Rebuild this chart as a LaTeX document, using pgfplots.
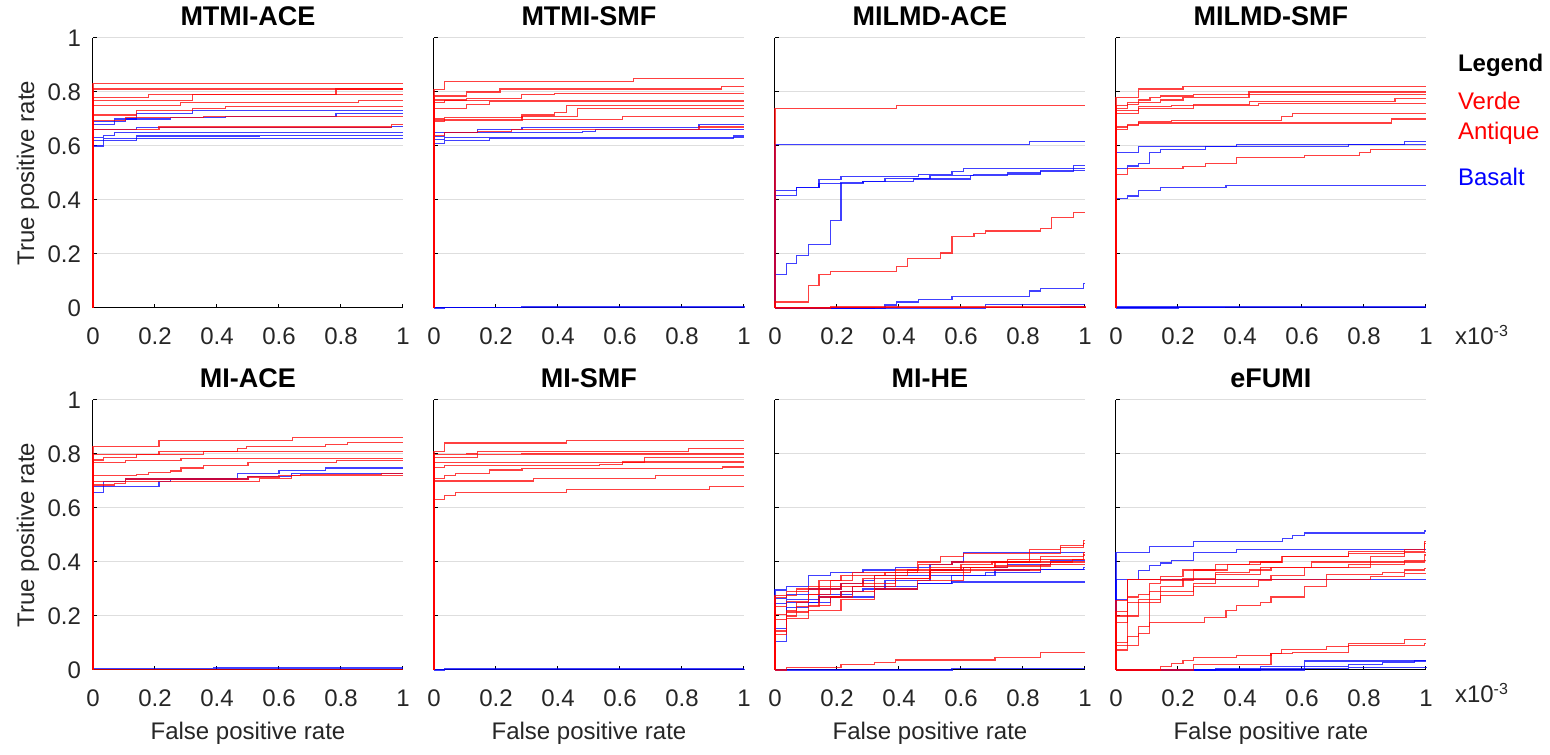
\documentclass[border=0pt]{standalone}
\usepackage{fontspec}
\setmainfont{Liberation Sans}
\usepackage{pgfplots}
\pgfplotsset{compat=1.18}

\definecolor{tick}{RGB}{38,38,38}
\definecolor{gridc}{RGB}{222,222,222}

\pgfplotsset{
  roc/.style={
    set layers, clip=false,
    scale only axis, width=155pt, height=135pt,
    xmin=0, xmax=1, ymin=0, ymax=1,
    axis x line*=bottom, axis y line*=left,
    axis line style={-, black, line width=0.5pt},
    xtick={0,0.2,0.4,0.6,0.8,1}, ytick={0,0.2,0.4,0.6,0.8,1},
    xticklabels={0,0.2,0.4,0.6,0.8,1},
    yticklabels={},
    tick align=inside, major tick length=2pt,
    tick style={black, line width=0.5pt},
    ymajorgrids, major grid style={gridc, line width=0.5pt},
    ticklabel style={font=\fontsize{12}{14}\selectfont, text=tick},
    xticklabel style={yshift=-6.5pt},
    yticklabel style={xshift=-2.5pt},
    title style={at={(axis description cs:0.5,1.035)}, anchor=center,
                 font=\bfseries\fontsize{13.5}{15}\selectfont},
    label style={font=\fontsize{12}{14}\selectfont, text=tick},
    xlabel style={at={(axis description cs:0.5,-0.236)}, anchor=center},
    ylabel style={at={(axis description cs:-0.21,0.5)}, anchor=center},
    anchor=south west,
  },
  ylab/.style={yticklabels={0,0.2,0.4,0.6,0.8,1}, ylabel={True positive rate}},
  rd/.style={draw=red, const plot, no markers, line width=0.6pt, opacity=0.75},
  bl/.style={draw=blue, const plot, no markers, line width=0.6pt, opacity=0.75},
}

\begin{document}
\begin{tikzpicture}
\path (0,0) (775pt,377.5pt);

% ---------- MTMI-ACE ----------
\begin{axis}[roc, ylab, at={(46.5pt,223.5pt)}, title={MTMI-ACE}]
\addplot[bl] coordinates {(0,0)(0,0.68)(0.07,0.70)(0.141,0.72)(0.32,0.73)(1,0.73)};
\addplot[bl] coordinates {(0,0)(0,0.69)(0.106,0.70)(0.249,0.705)(0.428,0.71)(0.784,0.72)(1,0.72)};
\addplot[bl] coordinates {(0,0)(0,0.66)(0.141,0.668)(0.964,0.672)(1,0.672)};
\addplot[bl] coordinates {(0,0)(0,0.63)(0.034,0.64)(0.07,0.651)(1,0.651)};
\addplot[bl] coordinates {(0,0)(0,0.60)(0.034,0.619)(0.141,0.629)(1,0.629)};
\addplot[bl] coordinates {(0,0)(0,0.62)(0.034,0.629)(0.141,0.637)(0.536,0.64)(1,0.64)};
\addplot[rd] coordinates {(0,0)(0,0.83)(1,0.83)};
\addplot[rd] coordinates {(0,0)(0,0.811)(1,0.811)};
\addplot[rd] coordinates {(0,0)(0,0.78)(0.178,0.79)(0.784,0.811)(1,0.811)};
\addplot[rd] coordinates {(0,0)(0,0.769)(0.32,0.79)(1,0.79)};
\addplot[rd] coordinates {(0,0)(0,0.749)(0.282,0.761)(0.857,0.769)(1,0.769)};
\addplot[rd] coordinates {(0,0)(0,0.715)(0.141,0.73)(0.32,0.74)(0.428,0.745)(1,0.745)};
\addplot[rd] coordinates {(0,0)(0,0.695)(0.106,0.705)(0.356,0.71)(1,0.71)};
\addplot[rd] coordinates {(0,0)(0,0.66)(0.213,0.67)(0.964,0.68)(1,0.68)};
\end{axis}

% ---------- MTMI-SMF ----------
\begin{axis}[roc, at={(217pt,223.5pt)}, title={MTMI-SMF}]
\addplot[bl] coordinates {(0,0)(0,0.65)(0.141,0.66)(0.284,0.668)(0.855,0.68)(1,0.68)};
\addplot[bl] coordinates {(0,0)(0,0.635)(0.034,0.649)(0.48,0.655)(0.52,0.662)(1,0.662)};
\addplot[bl] coordinates {(0,0)(0,0.61)(0.034,0.62)(0.178,0.629)(0.965,0.637)(1,0.637)};
\addplot[bl] coordinates {(0,0)(0,0.625)(0.034,0.63)(1,0.63)};
\addplot[bl] coordinates {(0,0)(0,0.003)(0.284,0.005)(0.607,0.006)(1,0.007)};
\addplot[bl] coordinates {(0,0)(0.034,0.002)(1,0.004)};
\addplot[rd] coordinates {(0,0)(0,0.81)(0.034,0.84)(0.643,0.85)(1,0.85)};
\addplot[rd] coordinates {(0,0)(0,0.785)(0.104,0.80)(0.213,0.811)(0.928,0.82)(1,0.82)};
\addplot[rd] coordinates {(0,0)(0,0.77)(0.104,0.775)(0.282,0.79)(0.39,0.795)(1,0.795)};
\addplot[rd] coordinates {(0,0)(0,0.76)(0.034,0.769)(1,0.769)};
\addplot[rd] coordinates {(0,0)(0,0.74)(0.104,0.755)(0.178,0.765)(1,0.765)};
\addplot[rd] coordinates {(0,0)(0,0.70)(0.034,0.705)(0.284,0.715)(0.39,0.725)(0.427,0.749)(1,0.749)};
\addplot[rd] coordinates {(0,0)(0,0.695)(0.284,0.71)(0.463,0.74)(1,0.74)};
\addplot[rd] coordinates {(0,0)(0,0.69)(0.034,0.699)(0.608,0.71)(1,0.71)};
\addplot[rd] coordinates {(0,0)(0,0.64)(0.034,0.65)(0.141,0.655)(0.25,0.66)(0.855,0.67)(1,0.67)};
\end{axis}

% ---------- MILMD-ACE ----------
\begin{axis}[roc, at={(387.5pt,223.5pt)}, title={MILMD-ACE}]
\addplot[bl] coordinates {(0,0)(0,0.606)(0.82,0.618)(1,0.618)};
\addplot[bl] coordinates {(0,0)(0,0.436)(0.07,0.446)(0.142,0.475)(0.213,0.486)(0.463,0.495)(0.571,0.505)(0.607,0.516)(1,0.516)};
\addplot[bl] coordinates {(0,0)(0,0.416)(0.07,0.446)(0.142,0.46)(0.284,0.468)(0.446,0.478)(0.63,0.49)(0.75,0.50)(0.857,0.505)(0.964,0.527)(1,0.527)};
\addplot[bl] coordinates {(0,0)(0,0.124)(0.036,0.165)(0.07,0.194)(0.107,0.235)(0.178,0.325)(0.213,0.465)(0.284,0.468)(0.355,0.48)(0.5,0.49)(0.64,0.495)(0.857,0.51)(1,0.51)};
\addplot[bl] coordinates {(0,0)(0.355,0.011)(0.392,0.022)(0.463,0.032)(0.571,0.042)(0.82,0.063)(0.857,0.073)(0.995,0.09)(1,0.09)};
\addplot[bl] coordinates {(0,0)(0.678,0.013)(1,0.013)};
\addplot[bl] coordinates {(0,0)(0.32,0.003)(0.92,0.006)(1,0.006)};
\addplot[rd] coordinates {(0,0)(0,0.739)(0.392,0.749)(1,0.749)};
\addplot[rd] coordinates {(0,0)(0,0.022)(0.107,0.082)(0.142,0.124)(0.178,0.134)(0.392,0.153)(0.427,0.183)(0.535,0.204)(0.571,0.264)(0.642,0.275)(0.678,0.285)(0.857,0.295)(0.892,0.335)(0.964,0.355)(1,0.355)};
\addplot[rd] coordinates {(0,0)(0,0.003)(1,0.004)};
\addplot[rd] coordinates {(0,0)(0.18,0.004)(1,0.006)};
\end{axis}

% ---------- MILMD-SMF ----------
\begin{axis}[roc, at={(558pt,223.5pt)}, title={MILMD-SMF}]
\addplot[bl] coordinates {(0,0)(0,0.577)(0.072,0.598)(0.39,0.605)(0.93,0.618)(1,0.618)};
\addplot[bl] coordinates {(0,0)(0,0.516)(0.036,0.526)(0.072,0.536)(0.107,0.577)(0.144,0.588)(0.288,0.598)(0.75,0.606)(1,0.606)};
\addplot[bl] coordinates {(0,0)(0,0.405)(0.036,0.415)(0.072,0.434)(0.144,0.446)(0.355,0.455)(1,0.455)};
\addplot[bl] coordinates {(0,0)(0,0.004)(0.35,0.006)(1,0.006)};
\addplot[bl] coordinates {(0,0)(0.2,0.003)(1,0.003)};
\addplot[rd] coordinates {(0,0)(0,0.78)(0.072,0.811)(0.216,0.82)(1,0.82)};
\addplot[rd] coordinates {(0,0)(0,0.749)(0.037,0.761)(0.144,0.77)(0.216,0.78)(0.429,0.80)(1,0.80)};
\addplot[rd] coordinates {(0,0)(0,0.74)(0.036,0.755)(0.072,0.77)(0.11,0.78)(0.144,0.785)(0.25,0.79)(1,0.79)};
\addplot[rd] coordinates {(0,0)(0,0.73)(0.072,0.745)(0.18,0.75)(0.25,0.755)(0.43,0.765)(0.9,0.775)(1,0.775)};
\addplot[rd] coordinates {(0,0)(0,0.72)(0.072,0.74)(0.25,0.75)(0.46,0.757)(1,0.757)};
\addplot[rd] coordinates {(0,0)(0,0.67)(0.036,0.68)(0.072,0.69)(0.18,0.695)(0.535,0.71)(0.57,0.72)(1,0.72)};
\addplot[rd] coordinates {(0,0)(0,0.66)(0.036,0.675)(0.072,0.685)(0.89,0.70)(1,0.70)};
\addplot[rd] coordinates {(0,0)(0,0.495)(0.036,0.516)(0.216,0.525)(0.288,0.536)(0.39,0.557)(0.607,0.565)(0.785,0.575)(0.82,0.588)(1,0.588)};
\end{axis}

% ---------- MI-ACE ----------
\begin{axis}[roc, ylab, at={(46.5pt,42.5pt)}, title={MI-ACE}, xlabel={False positive rate}]
\addplot[bl] coordinates {(0,0)(0,0.658)(0.034,0.699)(0.106,0.707)(0.465,0.727)(0.6,0.738)(0.75,0.748)(1,0.748)};
\addplot[bl] coordinates {(0,0)(0,0.679)(0.213,0.699)(0.249,0.707)(0.5,0.717)(0.64,0.727)(1,0.727)};
\addplot[bl] coordinates {(0,0)(0,0.006)(0.39,0.007)(1,0.007)};
\addplot[rd] coordinates {(0,0)(0,0.828)(0.213,0.851)(0.644,0.86)(1,0.86)};
\addplot[rd] coordinates {(0,0)(0,0.798)(0.213,0.81)(0.465,0.82)(0.496,0.828)(0.75,0.835)(0.82,0.842)(1,0.842)};
\addplot[rd] coordinates {(0,0)(0,0.778)(0.034,0.788)(0.141,0.798)(0.356,0.81)(1,0.81)};
\addplot[rd] coordinates {(0,0)(0,0.769)(0.106,0.775)(0.284,0.782)(1,0.782)};
\addplot[rd] coordinates {(0,0)(0,0.72)(0.141,0.725)(0.178,0.73)(0.249,0.737)(0.284,0.748)(0.356,0.757)(0.5,0.769)(0.785,0.775)(1,0.775)};
\addplot[rd] coordinates {(0,0)(0,0.685)(0.07,0.69)(0.106,0.707)(0.5,0.715)(0.6,0.72)(0.67,0.725)(0.93,0.728)(1,0.728)};
\addplot[rd] coordinates {(0,0)(0,0.699)(0.536,0.709)(0.64,0.72)(1,0.72)};
\addplot[rd] coordinates {(0,0)(0,0.002)(1,0.002)};
\end{axis}

% ---------- MI-SMF ----------
\begin{axis}[roc, at={(217pt,42.5pt)}, title={MI-SMF}, xlabel={False positive rate}]
\addplot[bl] coordinates {(0,0)(0.034,0.004)(0.57,0.006)(1,0.006)};
\addplot[bl] coordinates {(0,0)(0,0.002)(1,0.003)};
\addplot[rd] coordinates {(0,0)(0,0.81)(0.034,0.841)(0.427,0.851)(1,0.851)};
\addplot[rd] coordinates {(0,0)(0,0.798)(0.104,0.80)(0.141,0.81)(0.82,0.82)(1,0.82)};
\addplot[rd] coordinates {(0,0)(0,0.788)(0.141,0.798)(0.284,0.80)(1,0.80)};
\addplot[rd] coordinates {(0,0)(0,0.768)(0.678,0.788)(1,0.788)};
\addplot[rd] coordinates {(0,0)(0,0.749)(0.034,0.757)(0.535,0.762)(0.607,0.77)(1,0.77)};
\addplot[rd] coordinates {(0,0)(0,0.71)(0.034,0.719)(0.07,0.727)(0.178,0.741)(0.284,0.745)(0.93,0.752)(1,0.752)};
\addplot[rd] coordinates {(0,0)(0,0.70)(0.32,0.71)(0.715,0.719)(1,0.719)};
\addplot[rd] coordinates {(0,0)(0,0.63)(0.034,0.646)(0.07,0.658)(0.427,0.668)(0.89,0.679)(1,0.679)};
\end{axis}

% ---------- MI-HE ----------
\begin{axis}[roc, at={(387.5pt,42.5pt)}, title={MI-HE}, xlabel={False positive rate}]
\addplot[bl] coordinates {(0,0)(0,0.296)(0.036,0.31)(0.107,0.35)(0.178,0.36)(0.284,0.37)(0.39,0.38)(0.5,0.39)(0.571,0.40)(0.607,0.436)(1,0.436)};
\addplot[bl] coordinates {(0,0)(0,0.264)(0.036,0.28)(0.107,0.30)(0.213,0.32)(0.284,0.33)(0.32,0.35)(0.5,0.37)(0.607,0.38)(0.75,0.39)(0.89,0.406)(1,0.406)};
\addplot[bl] coordinates {(0,0)(0,0.247)(0.036,0.26)(0.142,0.27)(0.213,0.29)(0.284,0.30)(0.355,0.31)(0.46,0.32)(0.571,0.326)(1,0.326)};
\addplot[bl] coordinates {(0,0)(0,0.154)(0.036,0.23)(0.107,0.25)(0.178,0.27)(0.32,0.30)(0.46,0.32)(0.57,0.35)(0.678,0.36)(0.857,0.373)(0.994,0.38)(1,0.38)};
\addplot[bl] coordinates {(0,0)(0,0.104)(0.036,0.25)(0.142,0.28)(0.249,0.31)(0.355,0.33)(0.5,0.35)(0.71,0.37)(0.82,0.373)(1,0.373)};
\addplot[bl] coordinates {(0,0)(0.571,0.005)(1,0.005)};
\addplot[rd] coordinates {(0,0)(0,0.277)(0.036,0.29)(0.107,0.31)(0.178,0.33)(0.249,0.36)(0.5,0.37)(0.6,0.39)(0.7,0.40)(0.82,0.43)(0.92,0.46)(0.994,0.48)(1,0.48)};
\addplot[rd] coordinates {(0,0)(0,0.267)(0.036,0.275)(0.07,0.30)(0.142,0.33)(0.213,0.35)(0.355,0.36)(0.46,0.40)(0.535,0.42)(0.607,0.43)(0.82,0.445)(0.92,0.455)(0.994,0.467)(1,0.467)};
\addplot[rd] coordinates {(0,0)(0,0.235)(0.036,0.255)(0.107,0.28)(0.178,0.31)(0.284,0.34)(0.39,0.37)(0.463,0.39)(0.571,0.40)(0.75,0.41)(0.857,0.42)(0.994,0.436)(1,0.436)};
\addplot[rd] coordinates {(0,0)(0,0.204)(0.036,0.22)(0.07,0.25)(0.107,0.28)(0.142,0.30)(0.213,0.32)(0.32,0.35)(0.427,0.37)(0.5,0.38)(0.71,0.40)(0.857,0.41)(0.994,0.426)(1,0.426)};
\addplot[rd] coordinates {(0,0)(0,0.188)(0.036,0.215)(0.107,0.24)(0.178,0.27)(0.213,0.29)(0.32,0.32)(0.39,0.34)(0.5,0.36)(0.63,0.38)(0.71,0.385)(0.89,0.40)(1,0.40)};
\addplot[rd] coordinates {(0,0)(0,0.144)(0.036,0.20)(0.07,0.235)(0.142,0.27)(0.249,0.31)(0.39,0.34)(0.5,0.37)(0.607,0.38)(0.75,0.40)(0.96,0.41)(1,0.41)};
\addplot[rd] coordinates {(0,0)(0,0.132)(0.036,0.19)(0.107,0.22)(0.213,0.26)(0.32,0.30)(0.46,0.33)(0.607,0.37)(0.857,0.39)(1,0.39)};
\addplot[rd] coordinates {(0,0)(0.036,0.009)(0.213,0.019)(0.32,0.028)(0.39,0.037)(0.71,0.046)(0.857,0.064)(1,0.064)};
\end{axis}

% ---------- eFUMI ----------
\begin{axis}[roc, at={(558pt,42.5pt)}, title={eFUMI}, xlabel={False positive rate}]
\addplot[bl] coordinates {(0,0)(0,0.436)(0.109,0.457)(0.25,0.477)(0.536,0.488)(0.57,0.498)(0.607,0.507)(0.995,0.515)(1,0.515)};
\addplot[bl] coordinates {(0,0)(0,0.336)(0.072,0.367)(0.109,0.386)(0.144,0.396)(0.18,0.406)(0.25,0.436)(0.39,0.447)(1,0.447)};
\addplot[bl] coordinates {(0,0)(0,0.26)(0.036,0.336)(1,0.336)};
\addplot[bl] coordinates {(0,0)(0.465,0.013)(0.607,0.033)(1,0.033)};
\addplot[bl] coordinates {(0,0)(0.607,0.012)(0.75,0.02)(0.86,0.028)(0.964,0.035)(1,0.035)};
\addplot[bl] coordinates {(0,0)(0.32,0.004)(0.75,0.01)(1,0.012)};
\addplot[rd] coordinates {(0,0)(0,0.256)(0.036,0.336)(0.144,0.345)(0.216,0.37)(0.32,0.39)(0.43,0.40)(0.535,0.42)(0.75,0.43)(0.93,0.445)(0.995,0.475)(1,0.475)};
\addplot[rd] coordinates {(0,0)(0,0.216)(0.036,0.27)(0.072,0.28)(0.109,0.29)(0.144,0.31)(0.216,0.33)(0.25,0.37)(0.36,0.39)(0.465,0.40)(0.536,0.42)(0.75,0.44)(0.995,0.467)(1,0.467)};
\addplot[rd] coordinates {(0,0)(0,0.175)(0.036,0.25)(0.072,0.26)(0.144,0.29)(0.25,0.32)(0.32,0.355)(0.465,0.38)(0.63,0.40)(0.82,0.42)(0.93,0.436)(1,0.436)};
\addplot[rd] coordinates {(0,0)(0,0.101)(0.036,0.20)(0.072,0.25)(0.144,0.275)(0.25,0.31)(0.46,0.33)(0.5,0.35)(0.607,0.38)(0.82,0.40)(0.995,0.426)(1,0.426)};
\addplot[rd] coordinates {(0,0)(0,0.091)(0.072,0.16)(0.109,0.175)(0.285,0.195)(0.355,0.22)(0.39,0.24)(0.465,0.25)(0.5,0.27)(0.607,0.31)(0.68,0.355)(0.86,0.36)(0.93,0.37)(0.995,0.375)(1,0.375)};
\addplot[rd] coordinates {(0,0)(0,0.074)(0.036,0.125)(0.072,0.135)(0.109,0.32)(0.144,0.33)(0.216,0.34)(0.32,0.36)(0.43,0.37)(0.5,0.38)(0.75,0.39)(0.93,0.406)(1,0.406)};
\addplot[rd] coordinates {(0,0)(0,0.20)(0.036,0.336)(0.82,0.346)(0.93,0.356)(1,0.356)};
\addplot[rd] coordinates {(0,0)(0.144,0.012)(0.18,0.025)(0.216,0.035)(0.25,0.045)(0.39,0.055)(0.5,0.06)(0.535,0.075)(0.68,0.088)(0.75,0.097)(0.93,0.114)(1,0.114)};
\addplot[rd] coordinates {(0,0)(0.25,0.02)(0.5,0.06)(0.57,0.065)(0.75,0.09)(0.995,0.099)(1,0.099)};
\end{axis}

% legend text and axis multipliers
\node[anchor=west, font=\bfseries\fontsize{12}{14}\selectfont] at (725.5pt,345pt) {Legend};
\node[anchor=west, text=red, font=\fontsize{12}{14}\selectfont] at (725.5pt,327pt) {Verde};
\node[anchor=west, text=red, font=\fontsize{12}{14}\selectfont] at (725.5pt,311pt) {Antique};
\node[anchor=west, text=blue, font=\fontsize{12}{14}\selectfont] at (725.5pt,289pt) {Basalt};
\node[anchor=west, text=tick, font=\fontsize{12}{14}\selectfont] at (724pt,210pt) {x10\textsuperscript{-3}};
\node[anchor=west, text=tick, font=\fontsize{12}{14}\selectfont] at (724pt,31pt) {x10\textsuperscript{-3}};
\end{tikzpicture}
\end{document}
